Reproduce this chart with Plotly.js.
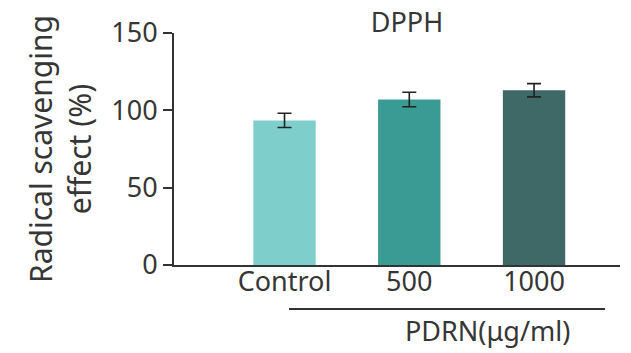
<!DOCTYPE html>
<html>
<head>
<meta charset="utf-8">
<script src="https://cdn.plot.ly/plotly-3.0.1.min.js"></script>
<style>html,body{margin:0;padding:0;background:#fff;}#chart{width:631px;height:353px;}</style>
</head>
<body>
<div id="chart"></div>
<script>
const categories = ["Control", "500", "1000"];
const values = [93.5, 107, 113];
const errors = [4.6, 4.7, 4.3];
const barColors = ["#7ecfcc", "#3a9b95", "#3e6966"];
const yTicks = [0, 50, 100, 150];

const FONT = '"Noto Sans", "Open Sans", sans-serif';
const TXT = '#363636';

const trace = {
  type: 'bar',
  x: categories,
  y: values,
  width: 0.5,
  marker: { color: barColors, line: { width: 0 } },
  error_y: { type: 'data', array: errors, visible: true, color: '#222', thickness: 1.6, width: 7 },
  hoverinfo: 'none'
};

const layout = {
  width: 631, height: 353,
  margin: { l: 174, r: 11, t: 33, b: 88 },
  paper_bgcolor: '#fff', plot_bgcolor: '#fff',
  showlegend: false,
  font: { family: FONT, color: TXT },
  title: { text: 'DPPH', x: 407 / 631, xanchor: 'center', y: 1 - 23 / 353, yanchor: 'middle',
           font: { family: FONT, size: 27, color: TXT } },
  xaxis: {
    type: 'category', range: [-0.886, 2.689], fixedrange: true,
    showline: true, linecolor: '#333', linewidth: 2,
    ticks: '', showgrid: false, zeroline: false, ticklabelstandoff: -8,
    tickfont: { family: FONT, size: 27, color: TXT }
  },
  yaxis: {
    range: [0, 150], tickvals: yTicks, fixedrange: true,
    showline: true, linecolor: '#333', linewidth: 2,
    ticks: 'outside', ticklen: 9, tickwidth: 2, tickcolor: '#333',
    showgrid: false, zeroline: false,
    tickfont: { family: FONT, size: 27, color: TXT }
  },
  shapes: [
    { type: 'line', xref: 'paper', yref: 'paper', x0: (289 - 174) / 446, x1: (605 - 174) / 446,
      y0: -44 / 232, y1: -44 / 232, line: { color: '#333', width: 2 } }
  ],
  annotations: [
    { text: 'PDRN(μg/ml)', xref: 'paper', yref: 'paper', x: (487 - 174) / 446, y: -65 / 232,
      xanchor: 'center', yanchor: 'middle', showarrow: false,
      font: { family: FONT, size: 27, color: TXT } },
    { text: 'Radical scavenging<br>effect (%)', xref: 'paper', yref: 'paper', x: (60 - 174) / 446, y: 0.5,
      xanchor: 'center', yanchor: 'middle', showarrow: false, textangle: -90,
      font: { family: FONT, size: 30, color: TXT } }
  ]
};

Plotly.newPlot('chart', [trace], layout, { displayModeBar: false, staticPlot: true });
</script>
</body>
</html>
